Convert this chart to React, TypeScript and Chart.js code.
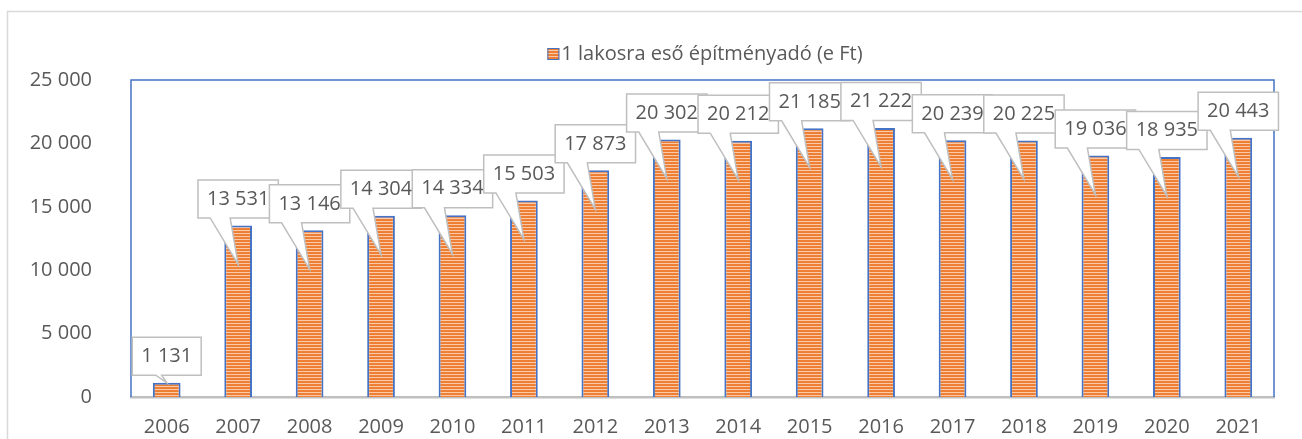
import React, { useEffect, useRef } from "react";
import { Chart, registerables } from "chart.js";

Chart.register(...registerables);

const years = ["2006", "2007", "2008", "2009", "2010", "2011", "2012", "2013", "2014", "2015", "2016", "2017", "2018", "2019", "2020", "2021"];
const values = [1131, 13531, 13146, 14304, 14334, 15503, 17873, 20302, 20212, 21185, 21222, 20239, 20225, 19036, 18935, 20443];
const seriesLabel = "1 lakosra eső építményadó (e Ft)";
const yMax = 25000;
const yStep = 5000;

const FONT = "'Open Sans', 'Noto Sans', sans-serif";
const TEXT = "#595959";
const BLUE = "#4472C4";
const CALLOUT = "#BFBFBF";

const fmt = (v: number) => String(v).replace(/\B(?=(\d{3})+(?!\d))/g, " ");

function makePattern(ctx: CanvasRenderingContext2D) {
  const pc = document.createElement("canvas");
  pc.width = 4;
  pc.height = 3;
  const p = pc.getContext("2d")!;
  p.fillStyle = "#EE8038";
  p.fillRect(0, 0, 4, 1);
  p.fillStyle = "#ED7D31";
  p.fillRect(0, 1, 4, 1);
  p.fillStyle = "#F9C9A8";
  p.fillRect(0, 2, 4, 1);
  return ctx.createPattern(pc, "repeat")!;
}

export default function App() {
  const ref = useRef<HTMLCanvasElement>(null);

  useEffect(() => {
    const canvas = ref.current!;
    const pattern = makePattern(canvas.getContext("2d")!);

    const framePlugin = {
      id: "frame",
      beforeDraw(chart: any) {
        const ctx = chart.ctx;
        ctx.save();
        ctx.strokeStyle = "#D9D9D9";
        ctx.lineWidth = 1.5;
        ctx.beginPath();
        ctx.moveTo(7.5, 439);
        ctx.lineTo(7.5, 11.5);
        ctx.lineTo(1302, 11.5);
        ctx.stroke();
        ctx.restore();
      },
      afterDatasetsDraw(chart: any) {
        const { left, right, top, bottom } = chart.chartArea;
        const ctx = chart.ctx;
        ctx.save();
        ctx.strokeStyle = BLUE;
        ctx.lineWidth = 1.5;
        ctx.beginPath();
        ctx.moveTo(left, bottom);
        ctx.lineTo(left, top);
        ctx.lineTo(right, top);
        ctx.lineTo(right, bottom);
        ctx.stroke();
        ctx.restore();
      },
      afterDraw(chart: any) {
        const ctx = chart.ctx;
        // legend
        ctx.save();
        ctx.font = `20px ${FONT}`;
        const tw = ctx.measureText(seriesLabel).width;
        const total = 12 + 2 + tw;
        const cx = 705;
        const lx = cx - total / 2;
        const ly = 54;
        ctx.fillStyle = pattern;
        ctx.fillRect(lx, ly - 6, 12, 12);
        ctx.strokeStyle = BLUE;
        ctx.lineWidth = 1;
        ctx.strokeRect(lx + 0.5, ly - 5.5, 11, 11);
        ctx.fillStyle = TEXT;
        ctx.textBaseline = "middle";
        ctx.textAlign = "left";
        ctx.fillText(seriesLabel, lx + 14, ly);
        ctx.restore();

        // callouts
        const meta = chart.getDatasetMeta(0);
        const base = chart.scales.y.getPixelForValue(0);
        ctx.save();
        ctx.font = `20px ${FONT}`;
        meta.data.forEach((bar: any, i: number) => {
          const { x, y } = bar.getProps(["x", "y"], true);
          const text = fmt(values[i]);
          const w = ctx.measureText(text).width + 18;
          const h = 38;
          const boxBottom = y - 7.5;
          const boxTop = boxBottom - h;
          const left = x - w / 2;
          const short = base - y < 50;
          const tipY = short ? y : y + 39;
          const bl = short ? x - 11 : x - 28;
          const br = short ? x - 5 : x - 8;
          ctx.beginPath();
          ctx.moveTo(left, boxTop);
          ctx.lineTo(left + w, boxTop);
          ctx.lineTo(left + w, boxBottom);
          ctx.lineTo(br, boxBottom);
          ctx.lineTo(x, tipY);
          ctx.lineTo(bl, boxBottom);
          ctx.lineTo(left, boxBottom);
          ctx.closePath();
          ctx.fillStyle = "#FFFFFF";
          ctx.fill();
          ctx.strokeStyle = CALLOUT;
          ctx.lineWidth = 1.5;
          ctx.lineJoin = "miter";
          ctx.stroke();
          ctx.fillStyle = TEXT;
          ctx.textAlign = "center";
          ctx.textBaseline = "middle";
          ctx.fillText(text, x, (boxTop + boxBottom) / 2);
        });
        ctx.restore();
      },
    };

    const chart = new Chart(canvas, {
      type: "bar",
      data: {
        labels: years,
        datasets: [
          {
            label: seriesLabel,
            data: values,
            backgroundColor: pattern,
            borderColor: BLUE,
            borderWidth: 2,
            barPercentage: 0.388,
            categoryPercentage: 1,
          },
        ],
      },
      options: {
        responsive: false,
        animation: false,
        devicePixelRatio: 1,
        layout: { padding: { top: 80, right: 28, left: 0, bottom: 0 } },
        plugins: {
          legend: { display: false },
          tooltip: { enabled: false },
        },
        scales: {
          x: {
            offset: true,
            grid: { display: false, drawTicks: false },
            border: { display: true, color: "#BFBFBF", width: 2.5 },
            ticks: { color: TEXT, font: { family: FONT, size: 20 }, padding: 18, maxRotation: 0 },
            afterFit(scale: any) {
              scale.height = 42;
              scale.paddingLeft = 0;
              scale.paddingRight = 0;
            },
          },
          y: {
            min: 0,
            max: yMax,
            grid: { display: false, drawTicks: false },
            border: { display: false },
            ticks: {
              stepSize: yStep,
              color: TEXT,
              font: { family: FONT, size: 20 },
              padding: 39,
              callback: (v: any) => fmt(Number(v)),
            },
            afterFit(scale: any) {
              scale.width = 131;
              scale.paddingTop = 0;
              scale.paddingBottom = 0;
            },
          },
        },
      },
      plugins: [framePlugin],
    });

    return () => chart.destroy();
  }, []);

  return (
    <div style={{ position: "fixed", left: 0, top: 0, width: 1302, height: 439, background: "#fff" }}>
      <canvas ref={ref} width={1302} height={439} style={{ display: "block", width: 1302, height: 439 }} />
    </div>
  );
}
